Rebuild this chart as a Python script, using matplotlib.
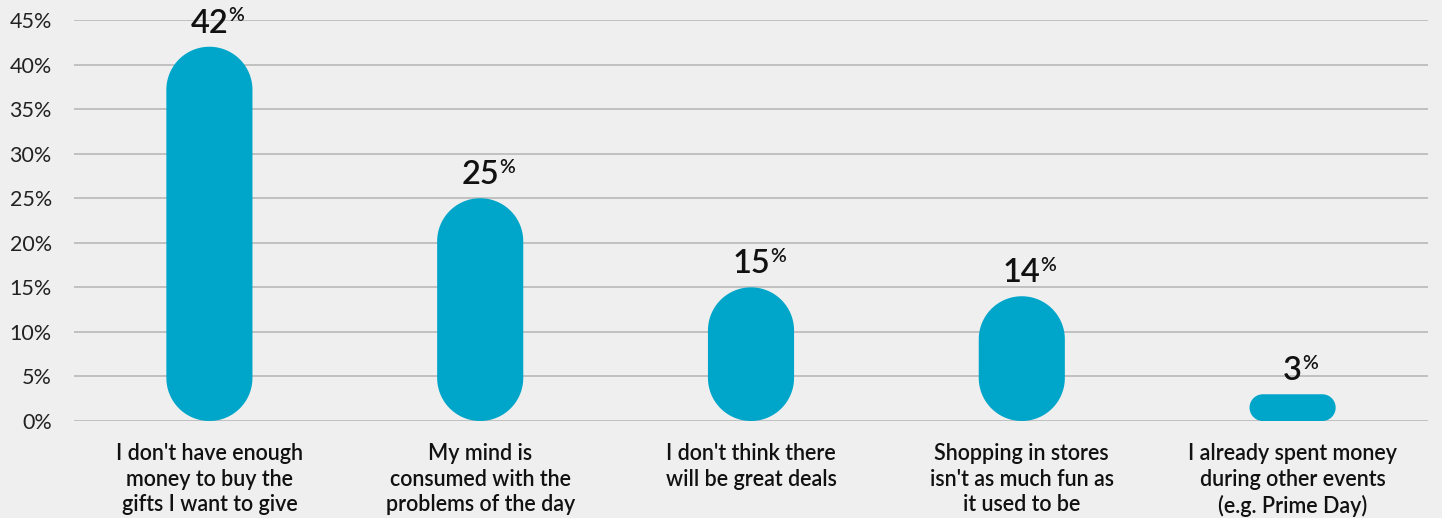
import matplotlib
matplotlib.use("Agg")
import matplotlib.pyplot as plt
from matplotlib.patches import Polygon
import numpy as np

categories = [
    "I don't have enough\nmoney to buy the\ngifts I want to give",
    "My mind is\nconsumed with the\nproblems of the day",
    "I don't think there\nwill be great deals",
    "Shopping in stores\nisn't as much fun as\nit used to be",
    "I already spent money\nduring other events\n(e.g. Prime Day)",
]
values = [42, 25, 15, 14, 3]
yticks = [0, 5, 10, 15, 20, 25, 30, 35, 40, 45]
ytick_labels = [f"{v}%" for v in yticks]

BG = "#efefef"
BAR = "#00a6ca"
GRID = "#b4b4b4"
TXT = "#111111"

plt.rcParams['font.family'] = ['Lato', 'DejaVu Sans']

W, H = 1442, 518
fig = plt.figure(figsize=(W / 100, H / 100), dpi=100, facecolor=BG)
ax = fig.add_axes([74 / W, (H - 421) / H, (1428 - 74) / W, (421 - 20) / H])
ax.set_facecolor(BG)

x = np.arange(len(categories))
ax.set_xlim(-0.5, len(categories) - 0.5)
ax.set_ylim(0, 45)

bars = ax.bar(x, values, width=0.318, color=BAR)

# convert rectangles to pill shapes with circular ends (circular in pixel space)
fig.canvas.draw()
p0 = ax.transData.transform((0, 0))
p1 = ax.transData.transform((1, 1))
xpp = 1.0 / (p1[0] - p0[0])   # data x per pixel
ypp = 1.0 / (p1[1] - p0[1])   # data y per pixel


def pill(bx, by, bw, bh):
    wpx, hpx = bw / xpp, bh / ypp
    rpx = min(wpx, hpx) / 2.0
    rx, ry = rpx * xpp, rpx * ypp
    corners = [
        (bx + bw - rx, by + bh - ry, 0.0),          # top-right
        (bx + rx, by + bh - ry, np.pi / 2),         # top-left
        (bx + rx, by + ry, np.pi),                  # bottom-left
        (bx + bw - rx, by + ry, 3 * np.pi / 2),     # bottom-right
    ]
    pts = []
    for cx, cy, a0 in corners:
        a = np.linspace(a0, a0 + np.pi / 2, 40)
        pts.extend(zip(cx + rx * np.cos(a), cy + ry * np.sin(a)))
    return np.array(pts)


for rect in bars:
    verts = pill(rect.get_x(), rect.get_y(), rect.get_width(), rect.get_height())
    ax.add_patch(Polygon(verts, closed=True, facecolor=BAR, edgecolor="none",
                         zorder=3))
    rect.remove()

ax.set_yticks(yticks)
ax.set_yticklabels(ytick_labels, fontsize=15.5, color="#222222")
ax.set_xticks(x)
ax.set_xticklabels(categories, fontsize=15.5, fontweight="semibold", color=TXT,
                   linespacing=1.27)
ax.tick_params(axis="both", length=0)
ax.tick_params(axis="x", pad=16)
ax.tick_params(axis="y", pad=16)
ax.grid(axis="y", color=GRID, linewidth=1.1, zorder=0)
ax.set_axisbelow(True)
for s in ax.spines.values():
    s.set_visible(False)

for xi, v in zip(x, values):
    t = ax.annotate(f"{v}", xy=(xi, v), xytext=(0, 10), textcoords="offset points",
                    ha="center", va="baseline", fontsize=23.5, color=TXT,
                    fontweight="semibold", zorder=4)
    ax.annotate("%", xy=(1, 1), xycoords=t, xytext=(0, 1),
                textcoords="offset points", ha="left", va="top",
                fontsize=14, color=TXT, fontweight="semibold", zorder=4)

fig.savefig("out.png", dpi=100, facecolor=BG)
